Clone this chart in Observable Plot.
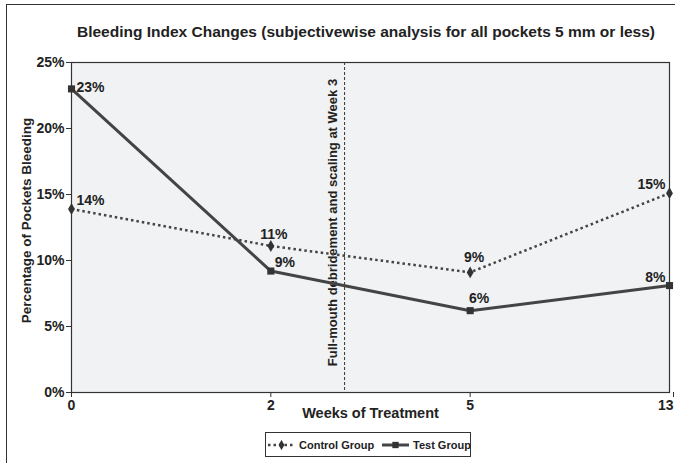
<!DOCTYPE html>
<html>
<head>
<meta charset="utf-8">
<script src="https://cdn.jsdelivr.net/npm/d3@7"></script>
<script src="https://cdn.jsdelivr.net/npm/@observablehq/plot@0.6"></script>
<style>
  html, body { margin: 0; padding: 0; background: #fff; }
  #wrap { position: relative; width: 675px; height: 463px; overflow: hidden; font-family: "Liberation Sans", Arial, sans-serif; color: #222; }
  #border { position: absolute; left: 6px; top: 4px; width: 700px; height: 500px; border-left: 1.5px solid #333; border-top: 1.5px solid #333; }
  #title { position: absolute; left: 0; top: 23px; width: 732px; text-align: center; font-weight: bold; font-size: 15.5px; white-space: nowrap; }
  #chart { position: absolute; left: 0; top: 0; }
  #legend { position: absolute; left: 265px; top: 432px; width: 206px; height: 25px; border: 1px solid #333; box-sizing: border-box; background: #fff; }
  .lg-item { position: absolute; top: 0; height: 23px; display: flex; align-items: center; font-weight: bold; font-size: 11px; white-space: nowrap; }
  .lg-item svg { margin-right: 4px; }
</style>
</head>
<body>
<div id="wrap">
  <div id="border"></div>
  <div id="chart"></div>
  <div id="title"></div>
  <div id="legend"></div>
</div>
<script>
// ---- data ----
const titleText = "Bleeding Index Changes (subjectivewise analysis for all pockets 5 mm or less)";
const weeks = ["0", "2", "5", "13"];
const controlGroup = [13.9, 11.1, 9.1, 15.1];
const testGroup = [23.0, 9.2, 6.2, 8.1];
const yTicks = [0, 5, 10, 15, 20, 25];
const seriesNames = ["Control Group", "Test Group"];
const xLabel = "Weeks of Treatment";
const yLabel = "Percentage of Pockets Bleeding";
const annotationText = "Full-mouth debridement and scaling at Week 3";
const annotationPos = 1.37; // category-axis position (between week 2 and week 5)

// ---- styling / layout ----
const ink = "#222";
const lineColor = "#444";
const labelPlacement = {
  "Control Group": [["start", 5, -9], ["middle", 3, -11], ["middle", 4, -15], ["end", -4, -9]],
  "Test Group": [["start", 5, -1], ["start", 4, -9], ["middle", 9, -12], ["end", -4, -8]]
};
const seriesStyle = {
  "Control Group": {dash: "2.5,3", width: 2.5, symbol: "diamond", r: 3.6},
  "Test Group": {dash: null, width: 3, symbol: "square", r: 4}
};

const valuesBySeries = {"Control Group": controlGroup, "Test Group": testGroup};
const rows = seriesNames.flatMap(s => weeks.map((w, i) => ({i, week: w, value: valuesBySeries[s][i], series: s})));
const fmt = v => d3.format(".0f")(v) + "%";
const lastIdx = weeks.length - 1;

document.getElementById("title").textContent = titleText;

const marks = [
  Plot.frame({fill: "#f1f2f4", stroke: "none"}),
  Plot.ruleX([annotationPos], {stroke: "#333", strokeWidth: 1, strokeDasharray: "3,2"}),
  Plot.text([annotationText], {x: () => annotationPos, frameAnchor: "middle", textAnchor: "middle", lineAnchor: "middle", rotate: -90, dx: -12, dy: -5, fill: ink, fontWeight: "bold", fontSize: 13})
];
for (const s of seriesNames) {
  const data = rows.filter(d => d.series === s);
  const st = seriesStyle[s];
  marks.push(Plot.line(data, {x: "i", y: "value", stroke: lineColor, strokeWidth: st.width, strokeDasharray: st.dash, strokeLinecap: "butt"}));
  marks.push(Plot.dot(data, {x: "i", y: "value", symbol: st.symbol, r: st.r, fill: "#333", stroke: "none"}));
}
for (const s of seriesNames) {
  rows.filter(d => d.series === s).forEach((d, k) => {
    const [anchor, dx, dy] = labelPlacement[s][k];
    marks.push(Plot.text([d], {x: "i", y: "value", text: d => fmt(d.value), textAnchor: anchor, dx, dy, fill: ink, fontWeight: "bold", fontSize: 14}));
  });
}
marks.push(
  Plot.frame({stroke: "#333", strokeWidth: 1.2}),
  Plot.axisY({ticks: yTicks, tickFormat: d => d + "%", tickSize: 5, tickPadding: 2, label: null, stroke: "#333", fill: ink}),
  Plot.axisX({ticks: weeks.map((w, i) => i).filter(i => i < lastIdx), tickFormat: i => weeks[i], tickSize: 5, tickPadding: 3, label: null, stroke: "#333", fill: ink}),
  Plot.axisX({ticks: [lastIdx], tickFormat: i => weeks[i], tickSize: 5, tickPadding: 3, label: null, stroke: "#333", fill: ink, textAnchor: "end", dx: 4}),
  Plot.text([xLabel], {frameAnchor: "bottom", textAnchor: "middle", lineAnchor: "middle", dy: 21, fill: ink, fontWeight: "bold", fontSize: 14.5}),
  Plot.text([yLabel], {frameAnchor: "left", textAnchor: "middle", lineAnchor: "middle", dx: -45, dy: -7, rotate: -90, fill: ink, fontWeight: "bold", fontSize: 13.5})
);

const chart = Plot.plot({
  width: 675,
  height: 425,
  marginLeft: 71,
  marginRight: 6,
  marginTop: 62,
  marginBottom: 33,
  x: {type: "linear", domain: [0, lastIdx]},
  y: {domain: [0, 25]},
  style: {fontFamily: "'Liberation Sans', Arial, sans-serif", fontSize: "14px", fontWeight: "bold", color: ink, background: "transparent", overflow: "visible"},
  marks
});
document.getElementById("chart").appendChild(chart);

// ---- legend ----
const legend = d3.select("#legend");
const legendX = [2, 116];
seriesNames.forEach((s, k) => {
  const st = seriesStyle[s];
  const item = legend.append("div").attr("class", "lg-item").style("left", legendX[k] + "px");
  const sw = item.append("svg").attr("width", 27).attr("height", 10);
  sw.append("line").attr("x1", 0).attr("x2", 27).attr("y1", 5).attr("y2", 5)
    .attr("stroke", lineColor).attr("stroke-width", st.width).attr("stroke-dasharray", st.dash);
  sw.append("path").attr("transform", "translate(13.5,5)")
    .attr("d", d3.symbol(st.symbol === "square" ? d3.symbolSquare : d3.symbolDiamond, st.symbol === "square" ? 40 : 30)())
    .attr("fill", "#333");
  item.append("span").text(s);
});
</script>
</body>
</html>
